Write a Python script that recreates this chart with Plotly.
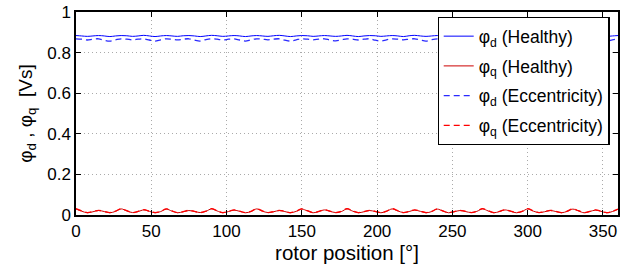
import numpy as np
import plotly.graph_objects as go

# rotor position samples (deg)
rotor_pos = list(np.linspace(0, 360, 97))

phi_d_healthy = [
    0.884, 0.882, 0.880, 0.882, 0.884, 0.882, 0.879, 0.882,
    0.884, 0.883, 0.880, 0.882, 0.885, 0.882, 0.879, 0.882,
    0.884, 0.882, 0.880, 0.883, 0.884, 0.882, 0.879, 0.882,
    0.885, 0.883, 0.880, 0.882, 0.884, 0.882, 0.879, 0.882,
    0.884, 0.882, 0.880, 0.883, 0.885, 0.882, 0.879, 0.882,
    0.884, 0.883, 0.880, 0.882, 0.884, 0.882, 0.880, 0.882,
    0.885, 0.882, 0.879, 0.882, 0.884, 0.883, 0.880, 0.882,
    0.884, 0.882, 0.879, 0.883, 0.885, 0.882, 0.880, 0.882,
    0.884, 0.882, 0.879, 0.882, 0.884, 0.883, 0.880, 0.882,
    0.885, 0.882, 0.879, 0.882, 0.884, 0.882, 0.880, 0.883,
    0.884, 0.882, 0.879, 0.882, 0.885, 0.883, 0.880, 0.882,
    0.884, 0.882, 0.879, 0.882, 0.884, 0.882, 0.880, 0.882,
    0.884,
]

phi_d_ecc = [
    0.868, 0.866, 0.862, 0.866, 0.868, 0.861, 0.857, 0.863,
    0.868, 0.866, 0.863, 0.866, 0.868, 0.862, 0.857, 0.863,
    0.868, 0.866, 0.863, 0.866, 0.868, 0.861, 0.857, 0.864,
    0.868, 0.866, 0.862, 0.866, 0.868, 0.862, 0.857, 0.863,
    0.868, 0.866, 0.863, 0.866, 0.868, 0.861, 0.857, 0.863,
    0.868, 0.866, 0.863, 0.866, 0.868, 0.862, 0.858, 0.863,
    0.868, 0.866, 0.862, 0.866, 0.868, 0.861, 0.857, 0.863,
    0.868, 0.866, 0.863, 0.866, 0.868, 0.862, 0.857, 0.864,
    0.868, 0.866, 0.862, 0.866, 0.868, 0.861, 0.857, 0.863,
    0.868, 0.866, 0.863, 0.866, 0.868, 0.862, 0.857, 0.863,
    0.868, 0.866, 0.862, 0.866, 0.868, 0.861, 0.858, 0.863,
    0.868, 0.866, 0.863, 0.866, 0.868, 0.862, 0.857, 0.863,
    0.868,
]

phi_q_healthy = [
    0.030, 0.019, 0.011, 0.016, 0.022, 0.017, 0.011, 0.018,
    0.030, 0.020, 0.012, 0.017, 0.025, 0.018, 0.011, 0.017,
    0.029, 0.019, 0.011, 0.016, 0.022, 0.017, 0.012, 0.018,
    0.030, 0.020, 0.011, 0.017, 0.024, 0.018, 0.011, 0.017,
    0.030, 0.019, 0.012, 0.016, 0.022, 0.017, 0.011, 0.018,
    0.029, 0.020, 0.011, 0.017, 0.025, 0.018, 0.012, 0.017,
    0.030, 0.019, 0.011, 0.016, 0.022, 0.017, 0.011, 0.018,
    0.030, 0.020, 0.012, 0.017, 0.024, 0.018, 0.011, 0.017,
    0.029, 0.019, 0.011, 0.016, 0.022, 0.017, 0.012, 0.018,
    0.030, 0.020, 0.011, 0.017, 0.025, 0.018, 0.011, 0.017,
    0.030, 0.019, 0.012, 0.016, 0.022, 0.017, 0.011, 0.018,
    0.029, 0.020, 0.011, 0.017, 0.024, 0.018, 0.011, 0.017,
    0.028,
]

phi_q_ecc = [
    0.031, 0.020, 0.012, 0.017, 0.023, 0.018, 0.012, 0.019,
    0.031, 0.021, 0.012, 0.018, 0.026, 0.019, 0.012, 0.018,
    0.030, 0.020, 0.012, 0.017, 0.023, 0.018, 0.012, 0.019,
    0.031, 0.021, 0.012, 0.018, 0.025, 0.019, 0.012, 0.018,
    0.031, 0.020, 0.012, 0.017, 0.023, 0.018, 0.012, 0.019,
    0.030, 0.021, 0.012, 0.018, 0.026, 0.019, 0.012, 0.018,
    0.031, 0.020, 0.012, 0.017, 0.023, 0.018, 0.012, 0.019,
    0.031, 0.021, 0.012, 0.018, 0.025, 0.019, 0.012, 0.018,
    0.030, 0.020, 0.012, 0.017, 0.023, 0.018, 0.012, 0.019,
    0.031, 0.021, 0.012, 0.018, 0.026, 0.019, 0.012, 0.018,
    0.031, 0.020, 0.012, 0.017, 0.023, 0.018, 0.012, 0.019,
    0.030, 0.021, 0.012, 0.018, 0.025, 0.019, 0.012, 0.018,
    0.029,
]

x_ticks = [0, 50, 100, 150, 200, 250, 300, 350]
y_ticks = [0, 0.2, 0.4, 0.6, 0.8, 1]
y_tick_labels = ["0", "0.2", "0.4", "0.6", "0.8", "1"]

FONT = "Liberation Sans, Arial, sans-serif"

fig = go.Figure()
fig.add_trace(go.Scatter(x=rotor_pos, y=phi_d_healthy, mode="lines", line_shape="spline",
                         line=dict(color="#0000ff", width=1), legendgroup="a",
                         name="φ<sub>d</sub> (Healthy)"))
fig.add_trace(go.Scatter(x=rotor_pos, y=phi_q_healthy, mode="lines", line_shape="spline",
                         line=dict(color="#cc0000", width=1), legendgroup="b",
                         name="φ<sub>q</sub> (Healthy)"))
fig.add_trace(go.Scatter(x=rotor_pos, y=phi_d_ecc, mode="lines", line_shape="spline",
                         line=dict(color="#2a2aff", width=1.3, dash="6px,4px"), legendgroup="c",
                         name="φ<sub>d</sub> (Eccentricity)"))
fig.add_trace(go.Scatter(x=rotor_pos, y=phi_q_ecc, mode="lines", line_shape="spline",
                         line=dict(color="#ff0000", width=1.3, dash="6px,4px"), legendgroup="d",
                         name="φ<sub>q</sub> (Eccentricity)"))

axis_common = dict(
    showline=True, linecolor="black", linewidth=1.5, mirror="ticks",
    ticks="inside", ticklen=5, tickcolor="black",
    showgrid=True, gridcolor="#aaaaaa", griddash="1px,3px", gridwidth=1,
    zeroline=False, automargin=False,
    tickfont=dict(family=FONT, size=17, color="black"),
)

fig.update_layout(
    width=629, height=268,
    margin=dict(l=76, r=11, t=12, b=53),
    paper_bgcolor="white", plot_bgcolor="white",
    font=dict(family=FONT, color="black"),
    xaxis=dict(range=[0, 360], tickvals=x_ticks,
               title=dict(text="rotor position [°]", font=dict(family=FONT, size=20.5), standoff=4),
               **axis_common),
    yaxis=dict(range=[0, 1], tickvals=y_ticks, ticktext=y_tick_labels,
               title=dict(text="φ<sub>d</sub> , φ<sub>q</sub>  [Vs]", font=dict(family=FONT, size=19), standoff=10),
               **axis_common),
    legend=dict(x=0.667, y=0.975, xanchor="left", yanchor="top",
                bgcolor="white", bordercolor="black", borderwidth=1.2,
                font=dict(family=FONT, size=17.5, color="black"),
                itemwidth=30, tracegroupgap=4),
    showlegend=True,
)

fig.write_html("out.html", config={"displayModeBar": False},
               post_script="document.body.style.margin='0';document.body.style.overflow='hidden';")
